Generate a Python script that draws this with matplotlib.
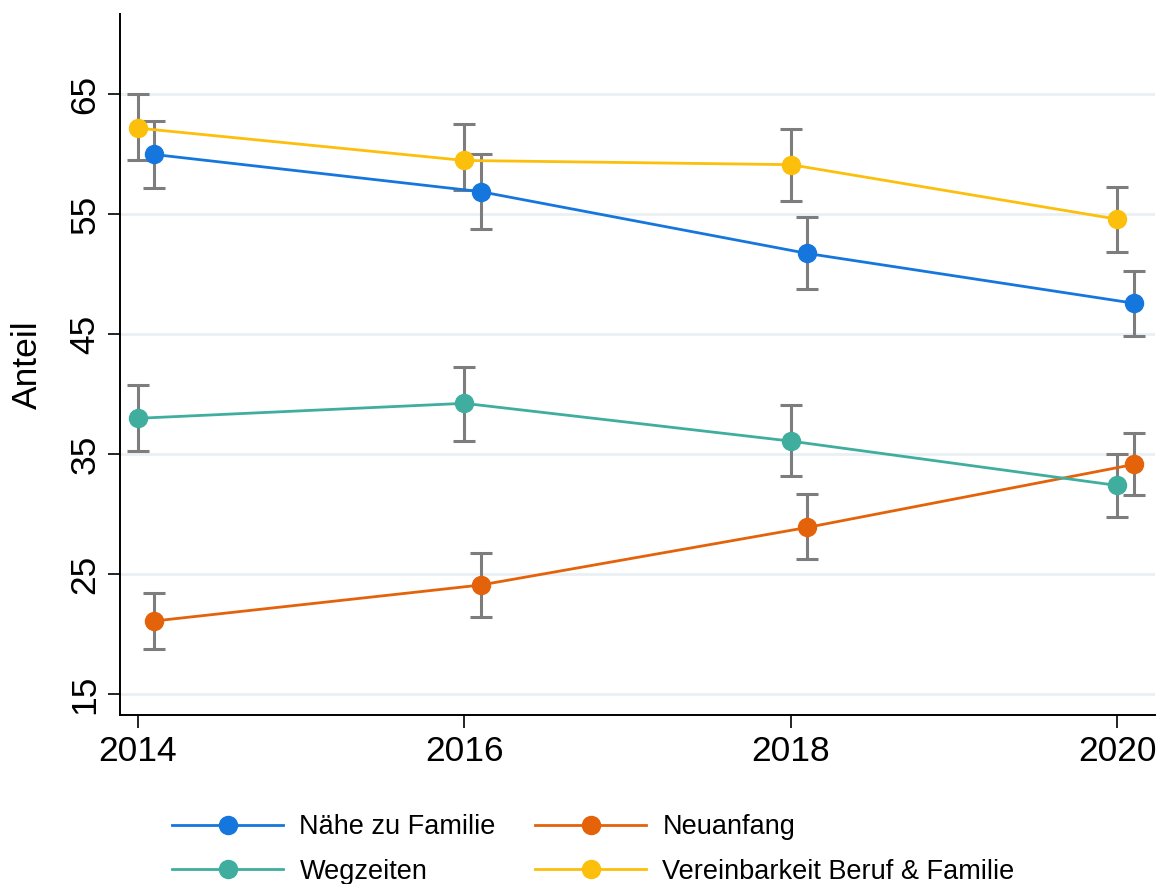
import matplotlib.pyplot as plt
import numpy as np

plt.rcParams['font.family'] = ['Liberation Sans', 'DejaVu Sans']

# Daten
years = np.array([2014, 2016, 2018, 2020])

naehe = [60.0, 56.9, 51.75, 47.6]
naehe_lo = [57.2, 53.8, 48.75, 44.9]
naehe_hi = [62.75, 60.0, 54.8, 50.25]

neuanfang = [21.1, 24.1, 28.9, 34.15]
neuanfang_lo = [18.75, 21.4, 26.25, 31.6]
neuanfang_hi = [23.4, 26.8, 31.65, 36.75]

wegzeiten = [38.0, 39.25, 36.1, 32.4]
wegzeiten_lo = [35.25, 36.15, 33.2, 29.8]
wegzeiten_hi = [40.75, 42.25, 39.1, 35.0]

vereinbar = [62.2, 59.5, 59.15, 54.6]
vereinbar_lo = [59.5, 57.0, 56.15, 51.9]
vereinbar_hi = [65.0, 62.5, 62.15, 57.3]

labels = ['Nähe zu Familie', 'Neuanfang', 'Wegzeiten',
          'Vereinbarkeit Beruf & Familie']
colors = ['#1577dd', '#e4620a', '#3fae9f', '#fbbf0c']
offsets = [0.1, 0.1, 0.0, 0.0]

series = [(naehe, naehe_lo, naehe_hi),
          (neuanfang, neuanfang_lo, neuanfang_hi),
          (wegzeiten, wegzeiten_lo, wegzeiten_hi),
          (vereinbar, vereinbar_lo, vereinbar_hi)]

fig = plt.figure(figsize=(11.63, 8.84), dpi=100)
ax = fig.add_axes([0.103, 0.191, 0.89, 0.793])

for y in range(15, 66, 10):
    ax.axhline(y, color='#e9f0f3', lw=2, zorder=0)

handles = []
for (v, lo, hi), c, off, lab in zip(series, colors, offsets, labels):
    x = years + off
    v = np.array(v)
    err = [v - np.array(lo), np.array(hi) - v]
    ax.errorbar(x, v, yerr=err, fmt='none', ecolor='#7d7d7d',
                elinewidth=2.2, capsize=8, capthick=2.2, zorder=2)
    h, = ax.plot(x, v, color=c, lw=2.0, marker='o', markersize=13,
                 label=lab, zorder=3)
    handles.append(h)

ax.set_xlim(2013.89, 2020.23)
ax.set_ylim(13.25, 71.7)
ax.set_xticks(years)
ax.set_yticks([15, 25, 35, 45, 55, 65])
ax.tick_params(axis='x', labelsize=25.5, length=9, width=1.2, pad=5)
ax.tick_params(axis='y', labelsize=25.5, length=9, width=1.2, pad=4)
for t in ax.get_yticklabels():
    t.set_rotation(90)
    t.set_va('center')
ax.set_ylabel('Anteil', fontsize=25.5, labelpad=18)

for s in ['top', 'right']:
    ax.spines[s].set_visible(False)
for s in ['left', 'bottom']:
    ax.spines[s].set_linewidth(1.4)

# Reihenfolge fuer zeilenweise Legende
order = [0, 2, 1, 3]
fig.legend([handles[i] for i in order], [labels[i] for i in order],
           loc='upper left', bbox_to_anchor=(0.148, 0.079),
           ncol=2, frameon=False, fontsize=19.5, handlelength=4.1,
           handletextpad=0.6, columnspacing=1.45, labelspacing=0.68,
           borderaxespad=0, borderpad=0)

fig.savefig('out.png', dpi=100)
